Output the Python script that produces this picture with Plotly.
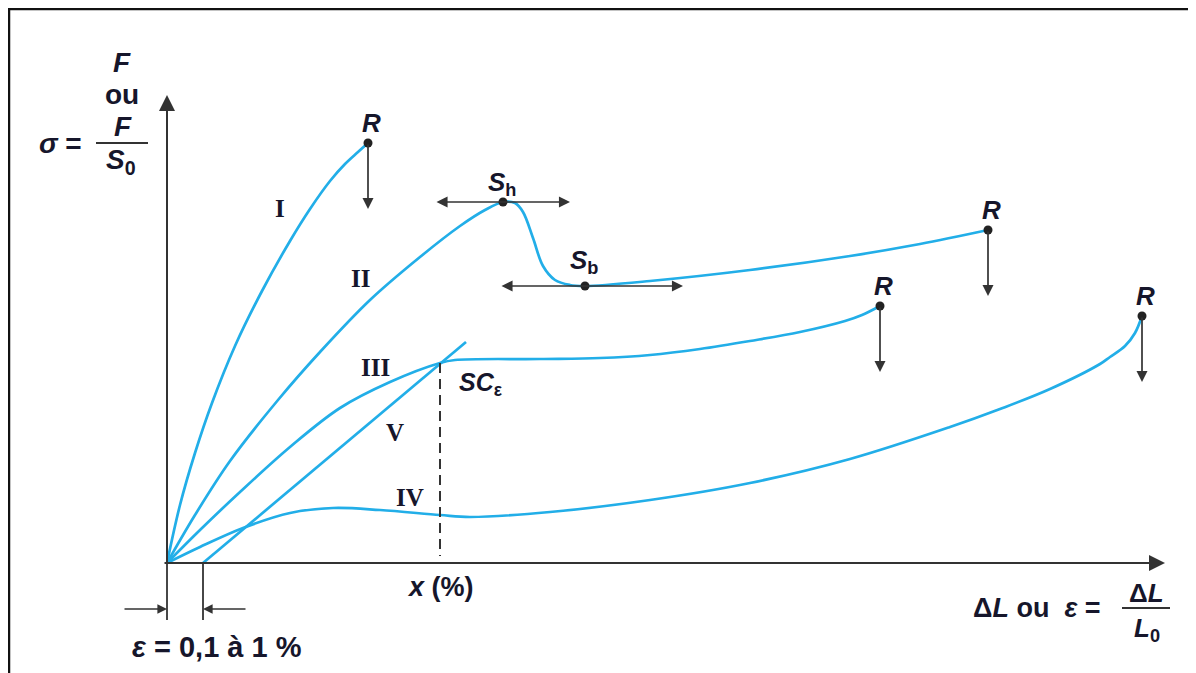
import plotly.graph_objects as go

# ---- data (strain units u, stress units v; schematic) ----
curve_I_u = [0, 13, 28, 45, 68, 95, 123, 143, 163, 178, 191, 201]
curve_I_v = [0, 58, 110, 160, 217, 272, 322, 354, 382, 399, 411, 420]

curve_II_u = [0, 28, 63, 111, 153, 203, 253, 293, 318, 336, 348, 356, 366, 376, 388, 403, 418, 483, 583, 683, 753, 821]
curve_II_v = [0, 48, 102, 163, 211, 263, 306, 337, 353, 361, 360, 351, 325, 297, 283, 278, 277, 282, 293, 307, 319, 333]

curve_III_u = [0, 33, 73, 123, 173, 223, 273, 288, 373, 433, 483, 533, 583, 633, 678, 695, 713]
curve_III_v = [0, 33, 71, 116, 155, 181, 200, 203, 204, 205, 208, 214, 222, 231, 242, 248, 257]

curve_V_u = [36, 299]
curve_V_v = [0, 221]

curve_IV_u = [0, 33, 76, 123, 166, 213, 273, 303, 383, 483, 583, 683, 783, 833, 883, 933, 943, 958, 968, 975]
curve_IV_v = [0, 16, 35, 50, 55, 53, 48, 46, 51, 63, 80, 104, 136, 154, 174, 199, 206, 217, 230, 247]

rupture_u = [201, 821, 713, 975]
rupture_v = [420, 333, 257, 247]
Sh = (336, 361)
Sb = (418, 277)
SCe = (273, 200)
eps_offset = 36

BLUE = "#22aee8"
DARK = "#333333"
TXT = "#16162b"
SANS = "Liberation Sans"
SERIF = "Liberation Serif"

fig = go.Figure()
for u, v in [(curve_I_u, curve_I_v), (curve_II_u, curve_II_v), (curve_III_u, curve_III_v),
             (curve_V_u, curve_V_v), (curve_IV_u, curve_IV_v)]:
    fig.add_trace(go.Scatter(x=u, y=v, mode="lines",
                             line=dict(color=BLUE, width=2.7, shape="spline", smoothing=1.0),
                             hoverinfo="skip", showlegend=False))

# dashed line from SCe down to the x axis
fig.add_trace(go.Scatter(x=[SCe[0], SCe[0]], y=[SCe[1], 7], mode="lines",
                         line=dict(color=DARK, width=2.0, dash="10px,6px"),
                         hoverinfo="skip", showlegend=False))
# ε extension lines
for xx in (0, eps_offset):
    fig.add_trace(go.Scatter(x=[xx, xx], y=[0, -57], mode="lines",
                             line=dict(color=DARK, width=1.8), hoverinfo="skip", showlegend=False))

# points
fig.add_trace(go.Scatter(x=rupture_u + [Sh[0], Sb[0]], y=rupture_v + [Sh[1], Sb[1]], mode="markers",
                         marker=dict(color="#222222", size=9), hoverinfo="skip", showlegend=False))

ann = []
def arrow(x0, y0, x1, y1, side="end", w=1.7, size=1.2, head=2):
    ann.append(dict(x=x1, y=y1, ax=x0, ay=y0, xref="x", yref="y", axref="x", ayref="y",
                    text="", showarrow=True, arrowhead=head, arrowsize=size, arrowwidth=w,
                    arrowcolor=DARK, arrowside=side, startarrowhead=head, startarrowsize=size))

# axes
arrow(0, -2, 0, 468, w=2.0, size=1.6)
arrow(-4, 0, 998, 0, w=2.0, size=1.6)
# rupture arrows
for u, v in zip(rupture_u, rupture_v):
    arrow(u, v, u, v - 66, w=1.7, size=1.3)
# double arrows at Sh and Sb
arrow(268, Sh[1], 403, Sh[1], side="end+start", w=1.7, size=1.3)
arrow(333, Sb[1], 516, Sb[1], side="end+start", w=1.7, size=1.3)
# dimension arrows for ε
arrow(-44, -46, 0, -46, w=1.6, size=1.2)
arrow(80, -46, eps_offset, -46, w=1.6, size=1.2)

def txt(x, y, s, size=26, family=SANS, color=TXT):
    ann.append(dict(x=x, y=y, xref="x", yref="y", text=s, showarrow=False,
                    font=dict(size=size, family=family, color=color), xanchor="center", yanchor="middle"))

# rupture labels
for u, v in zip(rupture_u, rupture_v):
    txt(u + 3, v + 20, "<b><i>R</i></b>", size=26)
txt(335, 380, "<b><i>S</i><sub>h</sub></b>", size=26)
txt(417, 302, "<b><i>S</i><sub>b</sub></b>", size=26)
txt(314, 179, "<b><i>SC</i><sub>ε</sub></b>", size=25)

# roman numerals
txt(113, 355, "<b>I</b>", size=25, family=SERIF)
txt(193, 285, "<b>II</b>", size=25, family=SERIF)
txt(208, 196, "<b>III</b>", size=25, family=SERIF)
txt(228, 131, "<b>V</b>", size=25, family=SERIF)
txt(243, 66, "<b>IV</b>", size=25, family=SERIF)

# y-axis label
txt(-45, 501, "<b><i>F</i></b>", size=28)
txt(-45, 469, "<b>ou</b>", size=28)
txt(-44, 437, "<b><i>F</i></b>", size=28)
txt(-46, 402, "<b><i>S</i><sub>0</sub></b>", size=28)
txt(-107, 420, "<b><i>σ</i> =</b>", size=28)

# x-axis labels
txt(273, -24, "<b><i>x</i> (%)</b>", size=27)
txt(50, -84, "<b><i>ε</i> = 0,1 à 1 %</b>", size=29)
txt(870, -45, "<b>Δ<i>L</i> ou\u00a0\u00a0<i>ε</i> =</b>", size=27)
txt(979, -30, "<b>Δ<i>L</i></b>", size=26)
txt(980, -66, "<b><i>L</i><sub>0</sub></b>", size=26)

shapes = [
    dict(type="line", xref="x", yref="y", x0=-71, x1=-19, y0=420, y1=420, line=dict(color=DARK, width=1.8)),
    dict(type="line", xref="x", yref="y", x0=955, x1=1003, y0=-45, y1=-45, line=dict(color=DARK, width=1.8)),
    # frame (top and left)
    dict(type="line", xref="paper", yref="paper", x0=0, x1=1, y0=1 - 0.5 / 665, y1=1 - 0.5 / 665,
         line=dict(color="#111111", width=3.5)),
    dict(type="line", xref="paper", yref="paper", x0=0.5 / 1188, x1=0.5 / 1188, y0=0, y1=1,
         line=dict(color="#111111", width=3.5)),
]

fig.update_layout(
    width=1188, height=665, margin=dict(l=0, r=0, t=0, b=0),
    paper_bgcolor="white", plot_bgcolor="white",
    xaxis=dict(range=[-159, 1029], visible=False, fixedrange=True),
    yaxis=dict(range=[-110, 555], visible=False, fixedrange=True),
    annotations=ann, shapes=shapes, showlegend=False,
)
fig.write_html("out.html")
